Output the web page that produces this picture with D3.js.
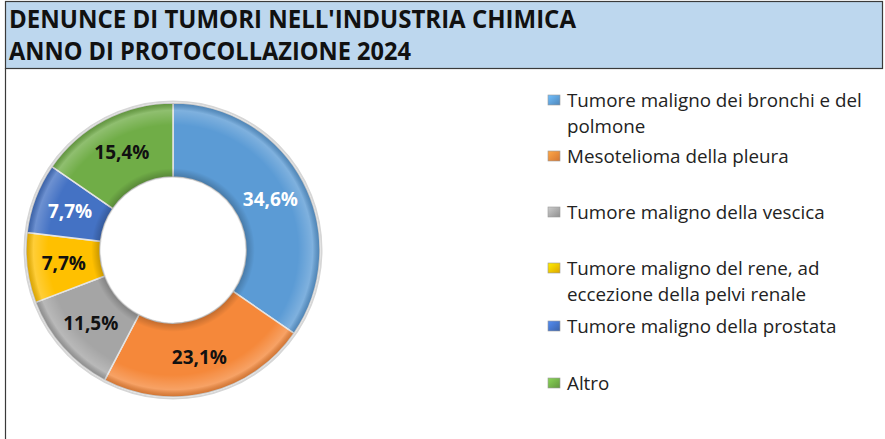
<!DOCTYPE html>
<html><head><meta charset="utf-8">
<script src="https://cdn.jsdelivr.net/npm/d3@7"></script>
<style>body{margin:0;background:#fff}svg{display:block}</style>
</head><body>
<svg id="c" width="885" height="439"></svg>
<script>
const titleLines = ["DENUNCE DI TUMORI NELL'INDUSTRIA CHIMICA", "ANNO DI PROTOCOLLAZIONE 2024"];
const categories = [
  ["Tumore maligno dei bronchi e del", "polmone"],
  ["Mesotelioma della pleura"],
  ["Tumore maligno della vescica"],
  ["Tumore maligno del rene, ad", "eccezione della pelvi renale"],
  ["Tumore maligno della prostata"],
  ["Altro"]
];
const values = [34.6, 23.1, 11.5, 7.7, 7.7, 15.4];
const labels = ["34,6%", "23,1%", "11,5%", "7,7%", "7,7%", "15,4%"];
const colors = ["#5b9bd5", "#f5883a", "#a5a5a5", "#ffc000", "#4472c4", "#70ad47"];
const labelColors = ["#ffffff", "#111111", "#111111", "#111111", "#ffffff", "#111111"];

const svg = d3.select("#c");
const defs = svg.append("defs");

// frame and title band
svg.append("rect").attr("x", 5.5).attr("y", 1.5).attr("width", 877).attr("height", 67)
  .attr("fill", "#bdd7ee").attr("stroke", "#3a3a3a").attr("stroke-width", 1.2);
svg.append("line").attr("x1", 5.5).attr("x2", 5.5).attr("y1", 68).attr("y2", 439)
  .attr("stroke", "#3a3a3a").attr("stroke-width", 1.2);

const titleFont = "'Open Sans', 'DejaVu Sans', sans-serif";
const titleWidths = [567, 402];
const titleY = [28, 60];
titleLines.forEach((t, i) => {
  svg.append("text").attr("x", 9).attr("y", titleY[i]).text(t)
    .attr("font-family", titleFont).attr("font-weight", 700).attr("font-size", 24.5)
    .attr("textLength", titleWidths[i]).attr("lengthAdjust", "spacingAndGlyphs")
    .attr("fill", "#111");
});

// donut
const cx = 173, cy = 250, R = 147, r0 = 73;
const pie = d3.pie().sort(null).value(d => d)(values);
const arc = d3.arc().innerRadius(r0).outerRadius(R);
const g = svg.append("g").attr("transform", `translate(${cx},${cy})`);

g.append("circle").attr("r", R + 1.5).attr("fill", "none").attr("stroke", "#d6d6d6").attr("stroke-width", 2);

const grad = defs.append("radialGradient").attr("id", "bevel")
  .attr("gradientUnits", "userSpaceOnUse").attr("cx", 0).attr("cy", 0).attr("r", R);
[[r0 / R, "#000", 0.22], [r0 / R + 0.06, "#000", 0.0], [0.85, "#fff", 0.0], [0.95, "#fff", 0.22], [1, "#000", 0.15]]
  .forEach(([o, c, a]) => grad.append("stop").attr("offset", o).attr("stop-color", c).attr("stop-opacity", a));

g.selectAll("path.s").data(pie).join("path").attr("class", "s")
  .attr("d", arc).attr("fill", (d, i) => colors[i])
  .attr("stroke", "#e4e4e4").attr("stroke-width", 1.5);
g.selectAll("path.b").data(pie).join("path").attr("class", "b")
  .attr("d", arc).attr("fill", "url(#bevel)").attr("stroke", "none");

const lblArc = d3.arc().innerRadius((r0 + R) / 2).outerRadius((r0 + R) / 2);
g.selectAll("text").data(pie).join("text")
  .attr("transform", d => `translate(${lblArc.centroid(d)})`)
  .attr("text-anchor", "middle").attr("dy", "0.36em")
  .attr("font-family", "'Open Sans', sans-serif").attr("font-weight", 700).attr("font-size", 19)
  .attr("fill", (d, i) => labelColors[i]).text((d, i) => labels[i]);

// legend
const legendY = [100, 156, 212, 268, 326, 383];
const lineH = 26;
const lg = svg.append("g");
categories.forEach((lines, i) => {
  const y = legendY[i];
  const mg = defs.append("linearGradient").attr("id", "lg" + i).attr("x1", 0).attr("y1", 0).attr("x2", 1).attr("y2", 1);
  mg.append("stop").attr("offset", 0).attr("stop-color", d3.color(colors[i]).brighter(0.6));
  mg.append("stop").attr("offset", 1).attr("stop-color", d3.color(colors[i]).darker(0.4));
  lg.append("rect").attr("x", 548).attr("y", y - 5).attr("width", 12).attr("height", 10)
    .attr("fill", `url(#lg${i})`).attr("stroke", "#9a9a9a").attr("stroke-width", 0.6);
  lines.forEach((ln, j) => {
    lg.append("text").attr("x", 567).attr("y", y + j * lineH).attr("dy", "0.36em")
      .attr("font-family", "'Open Sans', sans-serif").attr("font-size", 18.8).attr("fill", "#222")
      .text(ln);
  });
});
</script>
</body></html>
